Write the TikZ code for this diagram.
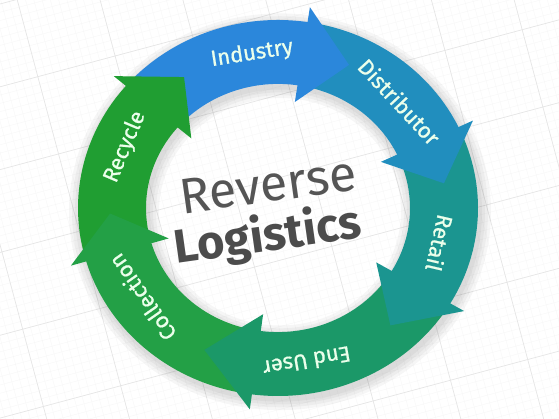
\documentclass[tikz,border=0pt]{standalone}
\usepackage{fontspec}
\setmainfont{Fira Sans}
\newfontfamily\etifont[FakeBold=0.8]{Fira Sans}

\definecolor{colInd}{RGB}{43,135,219}
\definecolor{colDis}{RGB}{33,142,190}
\definecolor{colRet}{RGB}{27,149,144}
\definecolor{colEnd}{RGB}{27,152,104}
\definecolor{colCol}{RGB}{35,160,70}
\definecolor{colRec}{RGB}{32,158,50}
\definecolor{testo}{RGB}{85,85,85}

\tikzset{
  etic/.style={text=white!92!green, font=\etifont\fontsize{22}{24}\selectfont},
  titolo/.style={text=testo, font=\fontsize{50}{50}\selectfont, rotate=8},
}

\begin{document}
\begin{tikzpicture}[x=1pt, y=1pt]
  % Parametri
  \def\rin{132}   % raggio interno
  \def\rout{200}  % raggio esterno
  \def\bin{114}   % punta, lato interno
  \def\bout{216}  % punta, lato esterno
  \def\rtip{168}  % raggio della punta

  \useasboundingbox (0,0) rectangle (559,419);

  % Sfondo a griglia
  \fill[white] (0,0) rectangle (559,419);
  \begin{scope}
    \clip (0,0) rectangle (559,419);
    \draw[gray!7, line width=0.3pt, rotate around={15:(278,211)}, step=8pt] (-240,-240) grid (840,680);
    \draw[gray!20, line width=0.6pt, rotate around={15:(278,211)}, step=80pt] (-240,-240) grid (840,680);
  \end{scope}

  \begin{scope}[shift={(278,211)}, yscale=0.94]
    % Ombra sfumata dell'anello
    \foreach \s in {2,5,8,11}
      \fill[black, opacity=0.035, even odd rule, shift={(2,-4)}]
        (0,0) circle[radius=\rout+\s] (0,0) circle[radius=\rin-\s];

    % Fasce
    \foreach \a/\b/\c in {139/81/colInd, 81/25/colDis, 25/-31/colRet,
                          -31/-98/colEnd, 262/196/colCol, 196/139/colRec}
      \fill[\c] (\a:\rout) arc[start angle=\a, end angle=\b, radius=\rout]
        -- (\b:\rin) arc[start angle=\b, end angle=\a, radius=\rin] -- cycle;

    % Punte delle frecce
    \foreach \b/\t/\c in {81/65/colInd, 25/9/colDis, -31/-48/colRet,
                          -98/-116/colEnd, 196/182/colCol, 139/124/colRec}
      \fill[\c] ({\b+0.5}:\bout) -- (\t:\rtip) -- ({\b+0.5}:\bin) -- cycle;

    % Etichette
    \node[etic, rotate=9] (ind) at (99:166) {Industry};
    \node[etic, rotate=-47] (dis) at (43:166) {Distributor};
    \node[etic, rotate=-103] (ret) at (-13:166) {Retail};
    \node[etic, rotate=-170] (usr) at (-80:166) {End User};
    \node[etic, rotate=125] (col) at (-145:166) {Collection};
    \node[etic, rotate=67] (rec) at (157:166) {Recycle};
  \end{scope}

  % Titolo centrale
  \node[titolo] (rev) at (268,234) {Reverse};
  \node[titolo, font=\fontsize{47}{47}\selectfont\bfseries, text=testo!90!black] (log) at (268,182) {Logistics};
\end{tikzpicture}
\end{document}
